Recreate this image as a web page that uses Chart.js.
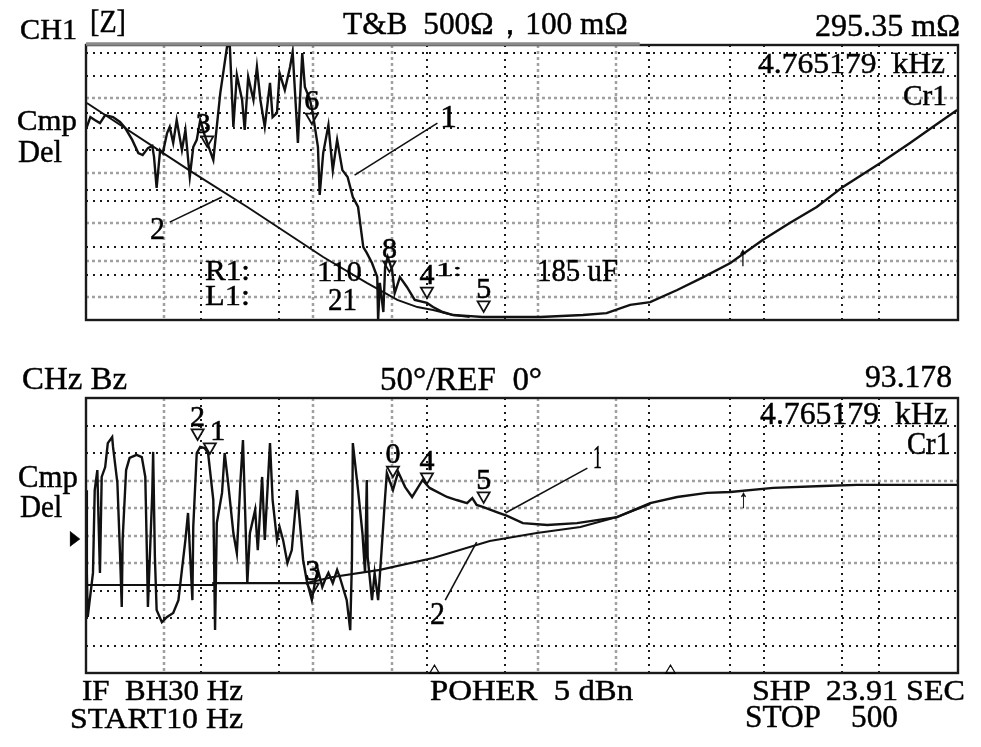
<!DOCTYPE html>
<html><head><meta charset="utf-8">
<script src="https://cdn.jsdelivr.net/npm/chart.js@4.4.1/dist/chart.umd.min.js"></script>
<style>
html,body{margin:0;padding:0;background:#fff;width:981px;height:747px;overflow:hidden;position:relative}
canvas{position:absolute;left:0}
.t{position:absolute;font-family:"Liberation Serif","DejaVu Serif",serif;color:#000;-webkit-text-stroke:0.45px #000;white-space:pre;line-height:1;transform-origin:0 0}
</style></head><body>
<canvas id="c1" width="981" height="340" style="top:0"></canvas>
<canvas id="c2" width="981" height="340" style="top:360px"></canvas>
<script>
// ---------- DATA (x: 0..100 sweep position, y: 0..100 of screen height) ----------
const gridX      = [8.9, 13.2, 22.1, 26.0, 35.1, 39.1, 48.0, 51.8, 60.8, 64.6, 73.8, 77.8, 86.7, 90.9];
const gridXStyle = ['g','k','k','g','g','k','k','g','g','k','k','k','k','k'];
const gridYTop      = [97.0, 88.7, 80.6, 75.2, 69.9, 61.8, 53.6, 47.3, 43.3, 35.2, 26.7, 21.6, 16.4, 8.5];
const gridYTopStyle = ['k','k','g','k','k','k','g','k','k','g','k','g','k','g'];
const gridYBot      = [90, 80, 70, 60, 50, 40, 30, 20, 10];
const gridYBotStyle = ['k','k','g','g','g','g','k','k','k'];

// top panel |Z| traces
const topTrace1 = [[0.1,70.2],[0.5,73.8],[1.0,72.7],[1.6,71.6],[2.2,74.5],[3.1,73.8],[3.9,72.0],[4.5,69.8],[5.3,65.5],[6.0,60.7],[6.5,60.0],[7.1,62.5],[7.6,63.3],[7.8,59.3],[8.1,48.0],[8.5,61.8],[8.8,60.7],[9.3,68.0],[9.6,70.2],[10.0,64.4],[10.4,72.7],[11.0,61.8],[11.4,69.1],[11.9,52.0],[12.3,62.9],[12.7,65.5],[13.1,72.7],[13.6,67.3],[14.2,61.8],[14.6,58.2],[15.4,82.5],[16.2,100],[16.5,99.3],[16.9,70.2],[17.3,89.1],[17.9,80.0],[18.2,69.1],[18.6,88.4],[19.2,80.0],[19.6,92.0],[20.0,80.0],[20.5,70.2],[21.1,86.2],[21.4,73.8],[21.9,75.3],[22.2,89.8],[22.8,83.6],[23.4,92.0],[23.7,97.5],[24.2,70.2],[24.3,64.4],[24.8,97.1],[25.1,84.7],[25.7,80.0],[26.0,75.3],[26.6,62.9],[26.8,45.5],[27.2,60.7],[27.8,70.9],[28.3,54.5],[28.8,65.5],[29.4,54.5],[30.0,52.0],[30.6,44.7],[31.2,41.1],[31.8,26.5],[32.2,24.4],[32.8,20.7],[33.4,15.6],[33.5,0],[33.7,13.5],[34.1,2.9],[34.3,19.3],[34.6,22.9],[35.1,18.2],[35.4,9.8],[36.0,15.6],[36.8,12.0],[37.7,7.3],[39.1,6.2],[39.8,4.7],[40.9,2.9],[42.1,1.8],[43.7,1.5],[45.5,1.1],[47.5,1.1],[52.1,1.1],[57.0,1.8],[59.7,2.5],[62.4,5.5],[64.7,6.5],[67.8,10.9],[70.8,15.6],[73.9,20.7],[77.6,29.1],[80.7,35.3],[83.8,41.1],[86.8,48.4],[91.1,57.1],[94.5,64.4],[97.1,70.2],[99.9,76.4]];
const topTrace2 = [[0.1,78.9],[12.3,53.5],[18.5,41.1],[27.2,22.9],[32.2,13.5],[33.7,10.9],[35.7,7.3],[38.0,4.7],[39.8,3.6],[42.1,1.8],[44.0,1.1]];
const topMarkers      = [[13.9,65.5],[25.9,73.8],[34.8,20.0],[39.1,10.5],[45.6,5.5]];
const topMarkerLabels = ['3','6','8','4','5'];
const topLeader1 = [[30.8,52.7],[40.3,71.6]];
const topLeader2 = [[9.6,35.6],[15.6,44.7]];

// bottom panel phase traces
const botTrace1 = [[0.1,66.5],[0.1,36.4],[0.2,20.4],[0.8,36.4],[1.0,66.5],[1.3,73.8],[1.4,60.4],[1.6,36.4],[1.8,71.3],[2.2,74.9],[2.5,83.6],[3.0,85.8],[3.1,82.2],[3.6,69.1],[3.9,43.6],[4.1,24.0],[4.2,48.4],[4.6,73.8],[5.0,78.2],[5.8,79.3],[6.4,78.5],[6.8,71.3],[7.0,41.1],[7.1,24.0],[7.6,65.5],[7.7,80.4],[7.9,42.2],[8.1,22.9],[8.7,18.5],[9.3,20.4],[10.0,21.8],[10.6,26.5],[11.0,37.5],[11.4,48.4],[11.7,58.2],[12.2,26.5],[12.3,53.1],[12.7,80.0],[13.1,82.2],[13.6,81.8],[14.0,80.0],[14.6,62.9],[14.8,15.6],[15.0,54.5],[15.6,65.5],[15.9,80.0],[16.3,69.1],[16.9,50.9],[17.3,43.6],[17.7,69.1],[18.0,84.7],[18.5,32.7],[18.8,50.9],[19.4,59.3],[19.7,44.7],[20.2,71.3],[20.5,48.4],[21.1,83.6],[21.4,62.9],[21.9,48.4],[22.2,53.1],[22.6,48.4],[23.1,40.0],[23.6,44.7],[24.2,66.5],[24.5,55.6],[24.9,41.1],[25.3,33.8],[25.9,26.5],[26.3,33.8],[26.6,37.5],[27.1,31.3],[27.4,33.8],[27.8,36.4],[28.3,32.7],[28.8,37.5],[29.1,34.9],[29.9,26.5],[30.3,15.6],[30.5,41.1],[30.6,83.6],[31.2,66.5],[31.7,50.9],[32.0,36.4],[32.2,70.2],[32.3,42.2],[32.8,26.5],[33.1,36.4],[33.5,26.5],[33.9,44.7],[34.3,64.0],[34.5,72.7],[35.2,66.5],[35.8,73.1],[36.6,67.6],[37.4,64.0],[38.6,70.2],[39.4,67.3],[41.4,64.0],[42.5,62.9],[43.7,61.8],[44.3,63.6],[44.8,61.1],[45.5,60.4],[47.1,58.5],[48.3,57.1],[50.1,54.5],[52.9,53.8],[56.3,54.5],[60.9,56.7],[64.7,61.8],[67.8,64.0],[71.2,65.5],[73.9,65.8],[78.8,67.3],[84.5,68.0],[88.4,68.4],[99.9,68.4]];
const botTrace2 = [[0.0,32.0],[14.6,32.0],[14.6,32.7],[25.3,32.7],[28.3,34.9],[33.7,37.5],[39.8,41.8],[46.3,48.0],[51.7,50.9],[56.7,53.1],[60.9,56.7],[64.7,61.5]];
const botMarkers      = [[12.8,87.3],[14.2,82.2],[26.0,31.3],[35.2,73.8],[39.1,71.3],[45.6,64.4]];
const botMarkerLabels = ['2','1','3','0','4','5'];
const botLeader1 = [[48.1,58.2],[57.5,74.5]];
const botLeader2 = [[41.2,26.5],[44.8,47.6]];

// screen texts: [text, left, right, capTop, baseline]
const texts = [
  ["CH1",20,77,19,39],["[Z]",90,126,12,33],["T&B  500Ω，100 mΩ",343,628,14,35],["295.35 mΩ",815,960,16,37],
  ["4.765179  kHz",758,945,54,73],["Cr1",903,947,85,105],["Cmp",17,77,110,130],["Del",18,62,142,163],
  ["1",440,457,107,128],["2",150,165,219,240],["R1:",205,250,260,280],["110",317,362,261,281],
  ["L1:",205,250,285,305],["21",328,357,290,311],["1:",436,462,264,276],["185 uF",537,618,261,282],["↑",738,748,248,266],
  ["CHz Bz",22,127,369,390],["50°/REF  0°",380,542,368,390],["93.178",865,952,367,388],
  ["4.765179  kHz",760,948,404,425],["Cr1",907,950,434,455],["Cmp",18,78,467,488],["Del",20,62,497,518],
  ["▶",70,80,531,544],["1",593,602,446,468],["2",430,445,604,625],["↑",739,748,491,508],
  ["IF  BH30 Hz",82,243,681,700],["START10 Hz",70,243,709,728],["POHER  5 dBn",430,633,681,700],
  ["SHP  23.91 SEC",752,965,680,700],["STOP    500",745,898,707,728],["△",429,440,664,672],["△",665,676,664,672]
];

// ---------- rendering ----------
const pts = a => a.map(([x,y]) => ({x,y}));
function gridPlugin(gy, gyStyle, grayTop) {
  return {
    id:'scopeGrid',
    beforeDatasetsDraw(chart){
      const {ctx, chartArea:a, scales:{x,y}} = chart;
      ctx.save();
      const setStyle = s => {
        if (s==='k'){ ctx.strokeStyle='#1a1a1a'; ctx.lineWidth=2; ctx.setLineDash([2,5]); }
        else { ctx.strokeStyle='#a0a0a0'; ctx.lineWidth=2.5; ctx.setLineDash([3,3]); }
      };
      gridX.forEach((v,i)=>{ setStyle(gridXStyle[i]); const p=Math.round(x.getPixelForValue(v));
        ctx.beginPath(); ctx.moveTo(p,a.top); ctx.lineTo(p,a.bottom); ctx.stroke(); });
      gy.forEach((v,i)=>{ setStyle(gyStyle[i]); const p=Math.round(y.getPixelForValue(v));
        ctx.beginPath(); ctx.moveTo(a.left,p); ctx.lineTo(a.right,p); ctx.stroke(); });
      ctx.restore();
    },
    afterDatasetsDraw(chart){
      const {ctx, chartArea:a} = chart;
      ctx.save();
      ctx.setLineDash([]);
      ctx.strokeStyle='#1a1a1a'; ctx.lineWidth=2.4;
      ctx.strokeRect(a.left, a.top, a.right-a.left, a.bottom-a.top);
      if (grayTop){ ctx.strokeStyle='#8a8a8a'; ctx.lineWidth=3.5;
        ctx.beginPath(); ctx.moveTo(a.left,a.top-1); ctx.lineTo(chart.scales.x.getPixelForValue(63.5),a.top-1); ctx.stroke(); }
      ctx.fillStyle='#000'; ctx.strokeStyle='#000'; ctx.lineWidth=0.6;
      ctx.font='30px "Liberation Serif", serif'; ctx.textAlign='center'; ctx.textBaseline='alphabetic';
      chart.data.datasets.forEach((ds,i)=>{
        if (!ds.markerLabels) return;
        chart.getDatasetMeta(i).data.forEach((el,j)=>{
          const tx = el.x + (ds.labelDx? ds.labelDx[j]:0), ty = el.y-7;
          ctx.fillText(ds.markerLabels[j], tx, ty); ctx.strokeText(ds.markerLabels[j], tx, ty); });
      });
      ctx.restore();
    }
  };
}
function traceDs(d, w){ return {data:pts(d), showLine:true, borderColor:'#111', borderWidth:w, pointRadius:0, tension:0}; }
function makeChart(id, datasets, gy, gyStyle, pad, grayTop){
  return new Chart(document.getElementById(id), {
    type:'scatter',
    data:{datasets},
    options:{
      responsive:false, animation:false, events:[],
      layout:{padding:pad},
      plugins:{legend:{display:false}, tooltip:{enabled:false}},
      scales:{x:{type:'linear',min:0,max:100,display:false}, y:{type:'linear',min:0,max:100,display:false}}
    },
    plugins:[gridPlugin(gy, gyStyle, grayTop)]
  });
}
const markerDs = (m, lab, dx) => ({data:pts(m), showLine:false, pointStyle:'triangle', rotation:180, pointRadius:7,
  pointBackgroundColor:'#fff', pointBorderColor:'#111', pointBorderWidth:1.8, markerLabels:lab, labelDx:dx});

makeChart('c1', [traceDs(topTrace1,2.4), traceDs(topTrace2,2), traceDs(topLeader1,1.6), traceDs(topLeader2,1.6),
  markerDs(topMarkers, topMarkerLabels, [-4,0,0,0,0])], gridYTop, gridYTopStyle, {left:86,top:45,right:23,bottom:20}, true);
makeChart('c2', [traceDs(botTrace1,2.4), traceDs(botTrace2,2.2), traceDs(botLeader1,1.6), traceDs(botLeader2,1.6),
  markerDs(botMarkers, botMarkerLabels, [0,8,0,0,0,0])], gridYBot, gridYBotStyle, {left:86,top:38,right:23,bottom:27}, false);

const els = texts.map(([txt,l,r,ct,b])=>{
  const fs=(b-ct)/0.66, el=document.createElement('div');
  el.className='t'; el.textContent=txt; el.style.fontSize=fs.toFixed(1)+'px';
  el.style.left=l+'px'; el.style.top=(b-0.8375*fs).toFixed(1)+'px';
  document.body.appendChild(el); return [el,l,r];
});
function fit(){ els.forEach(([el,l,r])=>{ el.style.transform='none'; const w=el.getBoundingClientRect().width; el.style.transform='scaleX('+((r-l)/w).toFixed(3)+')'; }); }
fit(); if (document.fonts) document.fonts.ready.then(fit);
</script>
</body></html>
